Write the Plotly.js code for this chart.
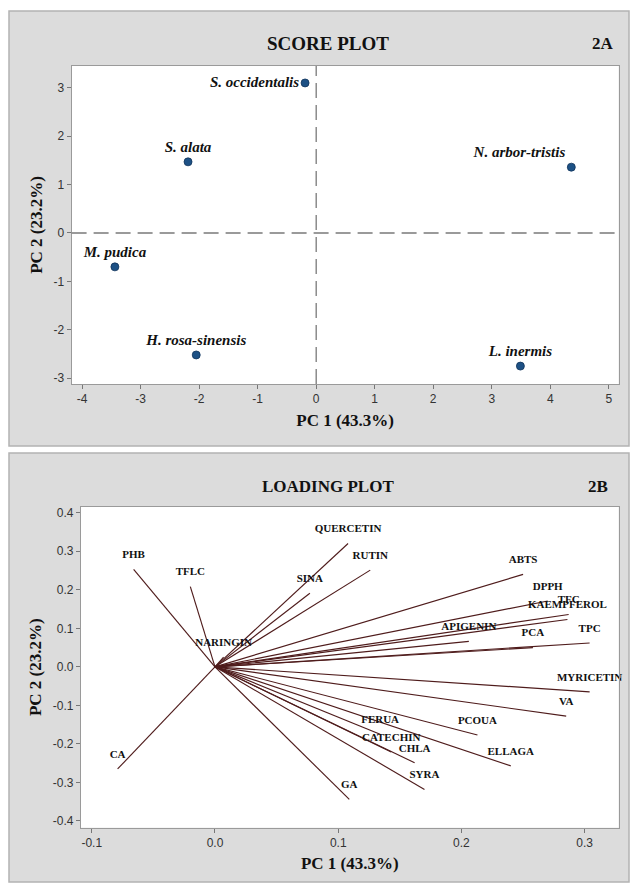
<!DOCTYPE html>
<html>
<head>
<meta charset="utf-8">
<script src="https://cdn.plot.ly/plotly-3.0.1.min.js"></script>
<style>
html,body{margin:0;padding:0;background:#fff;}
#chart{width:634px;height:884px;}
</style>
</head>
<body>
<div id="chart"></div>
<script>
// ---- Score plot data (2A) ----
const scoreNames = ['S. occidentalis', 'S. alata', 'N. arbor-tristis', 'M. pudica', 'H. rosa-sinensis', 'L. inermis'];
const scorePC1 = [-0.19, -2.19, 4.36, -3.44, -2.05, 3.49];
const scorePC2 = [3.10, 1.47, 1.36, -0.70, -2.52, -2.75];

// ---- Loading plot data (2B) ----
const loadNames = ['QUERCETIN', 'RUTIN', 'SINA', 'NARINGIN', 'PHB', 'TFLC', 'CA', 'ABTS', 'DPPH', 'TFC',
  'KAEMPFEROL', 'APIGENIN', 'PCA', 'TPC', 'MYRICETIN', 'VA', 'PCOUA', 'ELLAGA', 'FERUA', 'CATECHIN',
  'CHLA', 'SYRA', 'GA'];
const loadPC1 = [0.108, 0.126, 0.077, 0.007, -0.066, -0.020, -0.079, 0.250, 0.270, 0.287,
  0.286, 0.206, 0.258, 0.304, 0.304, 0.285, 0.213, 0.240, 0.134, 0.143,
  0.162, 0.170, 0.109];
const loadPC2 = [0.320, 0.251, 0.191, 0.025, 0.253, 0.208, -0.265, 0.240, 0.171, 0.136,
  0.123, 0.066, 0.050, 0.062, -0.065, -0.128, -0.177, -0.257, -0.175, -0.221,
  -0.249, -0.318, -0.344];

// ---- Tick labels ----
const scoreXTicks = [-4, -3, -2, -1, 0, 1, 2, 3, 4, 5];
const scoreYTicks = [-3, -2, -1, 0, 1, 2, 3];
const loadXTicks = [-0.1, 0.0, 0.1, 0.2, 0.3];
const loadYTicks = [-0.4, -0.3, -0.2, -0.1, 0.0, 0.1, 0.2, 0.3, 0.4];

// ---- Styling helpers ----
const W = 634, H = 884;
const px = v => v / W;
const py = v => 1 - v / H;
const serif = "'Liberation Serif', 'Times New Roman', serif";
const tickFont = {family: "'Liberation Sans Narrow', 'Liberation Sans', Arial, sans-serif", size: 12, color: '#333'};
const scoreLabelPos = ['middle left', 'top center', 'top left', 'top center', 'top center', 'top center'];

const lineX = [], lineY = [];
loadPC1.forEach((v, i) => { lineX.push(0, v, null); lineY.push(0, loadPC2[i], null); });

const traces = [
  {
    type: 'scatter', mode: 'markers+text', x: scorePC1, y: scorePC2, text: scoreNames,
    textposition: scoreLabelPos, cliponaxis: false,
    textfont: {family: serif, size: 15, weight: 'bold', style: 'italic', color: '#111'},
    marker: {color: '#1d5185', size: 8, line: {color: '#10345a', width: 0.8}},
    xaxis: 'x', yaxis: 'y', hoverinfo: 'none', showlegend: false
  },
  {
    type: 'scatter', mode: 'lines', x: lineX, y: lineY,
    line: {color: '#4f1c1c', width: 1.15},
    xaxis: 'x2', yaxis: 'y2', hoverinfo: 'none', showlegend: false
  },
  {
    type: 'scatter', mode: 'markers+text', x: loadPC1, y: loadPC2, text: loadNames,
    textposition: 'top center', cliponaxis: false,
    marker: {size: 12, opacity: 0, color: '#ffffff'},
    textfont: {family: serif, size: 11, weight: 'bold', color: '#111'},
    xaxis: 'x2', yaxis: 'y2', hoverinfo: 'none', showlegend: false
  }
];

function axisBase() {
  return {
    showgrid: false, zeroline: false, showline: true, mirror: true,
    linecolor: '#9a9a9a', linewidth: 1,
    ticks: 'outside', ticklen: 4, tickcolor: '#777', tickwidth: 1,
    tickfont: tickFont, fixedrange: true
  };
}

const titleFont = {family: serif, size: 17, weight: 'bold', color: '#111'};

const layout = {
  width: W, height: H,
  margin: {l: 0, r: 0, t: 0, b: 0},
  paper_bgcolor: '#ffffff', plot_bgcolor: '#ffffff',
  showlegend: false,
  xaxis: Object.assign(axisBase(), {
    domain: [px(71.6), px(618.7)], range: [-4.18, 5.17], anchor: 'y',
    tickvals: scoreXTicks, ticktext: scoreXTicks.map(String),
    title: {text: 'PC 1 (43.3%)', font: titleFont, standoff: 8}
  }),
  yaxis: Object.assign(axisBase(), {
    domain: [py(384), py(66)], range: [-3.12, 3.45], anchor: 'x',
    tickvals: scoreYTicks, ticktext: scoreYTicks.map(String),
    title: {text: 'PC 2 (23.2%)', font: titleFont, standoff: 6}
  }),
  xaxis2: Object.assign(axisBase(), {
    domain: [px(80.9), px(618.7)], range: [-0.1088, 0.3276], anchor: 'y2',
    tickvals: loadXTicks, ticktext: loadXTicks.map(v => v.toFixed(1)),
    title: {text: 'PC 1 (43.3%)', font: titleFont, standoff: 8}
  }),
  yaxis2: Object.assign(axisBase(), {
    domain: [py(827.7), py(506.7)], range: [-0.4174, 0.4156], anchor: 'x2',
    tickvals: loadYTicks, ticktext: loadYTicks.map(v => v.toFixed(1)),
    title: {text: 'PC 2 (23.2%)', font: titleFont, standoff: 6}
  }),
  shapes: [
    {type: 'rect', xref: 'paper', yref: 'paper', x0: px(9), x1: px(629), y0: py(446), y1: py(11),
      fillcolor: '#dcdcdc', line: {color: '#b3b3b3', width: 1.5}, layer: 'below'},
    {type: 'rect', xref: 'paper', yref: 'paper', x0: px(9), x1: px(629), y0: py(882), y1: py(453),
      fillcolor: '#dcdcdc', line: {color: '#b3b3b3', width: 1.5}, layer: 'below'},
    {type: 'rect', xref: 'paper', yref: 'paper', x0: px(71.6), x1: px(618.7), y0: py(384), y1: py(66),
      fillcolor: '#ffffff', line: {width: 0}, layer: 'below'},
    {type: 'rect', xref: 'paper', yref: 'paper', x0: px(80.9), x1: px(618.7), y0: py(827.7), y1: py(506.7),
      fillcolor: '#ffffff', line: {width: 0}, layer: 'below'},
    {type: 'line', xref: 'x', yref: 'y domain', x0: 0, x1: 0, y0: 0, y1: 1,
      line: {color: '#7a7a7a', width: 1.3, dash: '15px,7px'}},
    {type: 'line', xref: 'x domain', yref: 'y', x0: 0, x1: 1, y0: 0, y1: 0,
      line: {color: '#7a7a7a', width: 1.3, dash: '15px,7px'}}
  ],
  annotations: [
    {text: 'SCORE PLOT', xref: 'paper', yref: 'paper', x: px(328), y: py(43), xanchor: 'center', yanchor: 'middle',
      showarrow: false, font: {family: serif, size: 19, weight: 'bold', color: '#111'}},
    {text: '2A', xref: 'paper', yref: 'paper', x: px(603), y: py(43), xanchor: 'center', yanchor: 'middle',
      showarrow: false, font: {family: serif, size: 17, weight: 'bold', color: '#111'}},
    {text: 'LOADING PLOT', xref: 'paper', yref: 'paper', x: px(328), y: py(486), xanchor: 'center', yanchor: 'middle',
      showarrow: false, font: {family: serif, size: 17, weight: 'bold', color: '#111'}},
    {text: '2B', xref: 'paper', yref: 'paper', x: px(598), y: py(486), xanchor: 'center', yanchor: 'middle',
      showarrow: false, font: {family: serif, size: 17, weight: 'bold', color: '#111'}}
  ]
};

Plotly.newPlot('chart', traces, layout, {staticPlot: true, displayModeBar: false});
</script>
</body>
</html>
